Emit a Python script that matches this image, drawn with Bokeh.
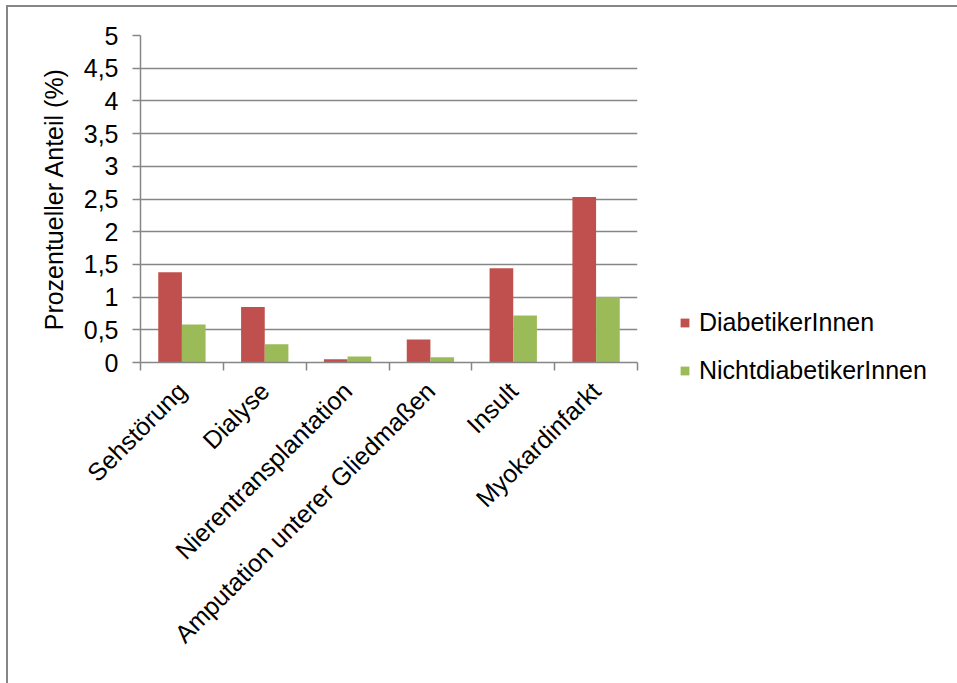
from bokeh.plotting import figure
from bokeh.models import (Range1d, FixedTicker, CustomJSTickFormatter, Legend, LegendItem,
                          ColumnDataSource)
from bokeh.layouts import column
from bokeh.transform import dodge
from bokeh.embed import file_html
from bokeh.resources import INLINE
import math

categories = ["Sehstörung", "Dialyse", "Nierentransplantation",
              "Amputation unterer Gliedmaßen", "Insult", "Myokardinfarkt"]
diabetiker = [1.38, 0.85, 0.05, 0.35, 1.44, 2.53]
nichtdiabetiker = [0.58, 0.28, 0.09, 0.08, 0.72, 1.00]
series_names = ["DiabetikerInnen", "NichtdiabetikerInnen"]
y_ticks = [0, 0.5, 1, 1.5, 2, 2.5, 3, 3.5, 4, 4.5, 5]

RED = "#C0504D"
GREEN = "#9BBB59"
GRAY = "#868686"
FONT = "Liberation Sans"
FS = "25px"

xs = [i + 0.5 for i in range(len(categories))]
src = ColumnDataSource(dict(x=xs, d=diabetiker, n=nichtdiabetiker))

bw = 1 / 3.5
OFFX, OFFY = 8, 7   # outer frame offset (margin + border)

p = figure(frame_width=497, frame_height=327, output_backend="svg", toolbar_location=None,
           x_range=Range1d(0, len(categories)), y_range=Range1d(0, 5),
           min_border_left=140 - OFFX, min_border_right=0, min_border_top=35 - OFFY,
           min_border_bottom=321, background_fill_color="white",
           border_fill_color="white", outline_line_color=None)

r1 = p.vbar(x=dodge("x", -bw / 2, range=p.x_range), top="d", width=bw, source=src,
            fill_color=RED, line_color=None)
r2 = p.vbar(x=dodge("x", bw / 2, range=p.x_range), top="n", width=bw, source=src,
            fill_color=GREEN, line_color=None)

# y axis
ya = p.yaxis[0]
ya.ticker = FixedTicker(ticks=y_ticks)
ya.formatter = CustomJSTickFormatter(code="return tick.toString().replace('.', ',');")
ya.axis_line_color = GRAY
ya.axis_line_width = 1.5
ya.major_tick_line_color = GRAY
ya.major_tick_line_width = 1.5
ya.major_tick_out = 8
ya.major_tick_in = 0
ya.minor_tick_line_color = None
ya.major_label_text_font = FONT
ya.major_label_text_font_size = FS
ya.major_label_text_color = "black"
ya.major_label_standoff = 14
ya.axis_label = "Prozentueller Anteil (%)"
ya.axis_label_text_font = FONT
ya.axis_label_text_font_size = FS
ya.axis_label_text_font_style = "normal"
ya.axis_label_text_color = "black"
ya.axis_label_standoff = 13

# x axis
xa = p.xaxis[0]
xa.ticker = FixedTicker(ticks=xs, minor_ticks=list(range(len(categories) + 1)))
xa.formatter = CustomJSTickFormatter(args=dict(names=categories),
                                     code="return names[Math.floor(tick)];")
xa.axis_line_color = GRAY
xa.axis_line_width = 1.5
xa.major_tick_line_color = None
xa.major_tick_out = 0
xa.major_tick_in = 0
xa.minor_tick_line_color = GRAY
xa.minor_tick_line_width = 1.5
xa.minor_tick_out = 8
xa.minor_tick_in = 0
xa.major_label_orientation = math.pi / 4
xa.major_label_text_font = FONT
xa.major_label_text_font_size = FS
xa.major_label_text_color = "black"
xa.major_label_standoff = 16

p.xgrid.grid_line_color = None
p.ygrid.grid_line_color = GRAY
p.ygrid.grid_line_width = 1.5
p.ygrid.ticker = FixedTicker(ticks=y_ticks)

legend = Legend(items=[LegendItem(label=series_names[0], renderers=[r1]),
                       LegendItem(label=series_names[1], renderers=[r2])],
                location=(42, -23), glyph_width=11, glyph_height=11,
                label_height=24, spacing=19, padding=0, margin=0,
                label_standoff=9, border_line_color=None,
                background_fill_alpha=0,
                label_text_font=FONT, label_text_font_size=FS,
                label_text_color="black")
p.add_layout(legend, "right")

layout = column(p, styles={"border-left": "2px solid #868686",
                           "border-top": "2px solid #868686",
                           "margin-left": "6px", "margin-top": "5px"})

open("out.html", "w").write(file_html(layout, INLINE))
